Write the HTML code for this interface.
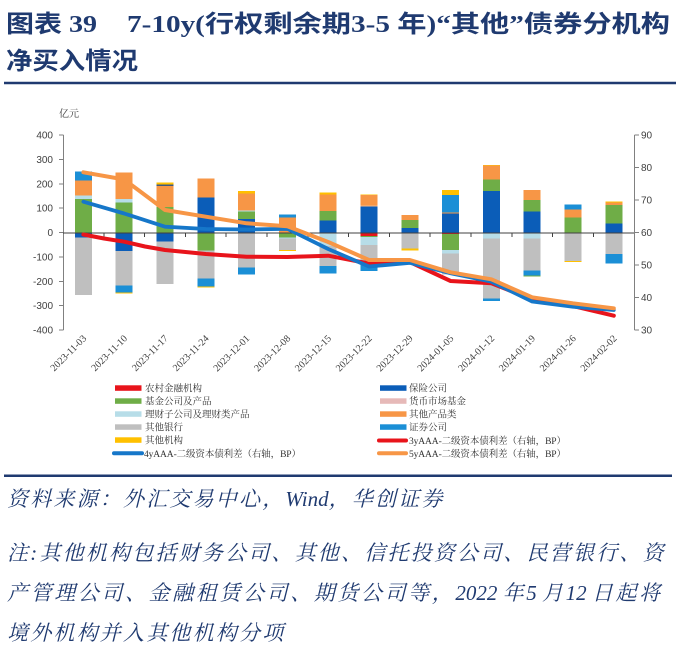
<!DOCTYPE html>
<html><head><meta charset="utf-8"><style>
html,body{margin:0;padding:0;background:#fff;}
svg{display:block;}
.t{font-family:"Liberation Serif","Noto Sans CJK SC",sans-serif;font-weight:bold;fill:#1f3a70;}
.ax{font-family:"Liberation Sans",sans-serif;font-size:10px;fill:#404040;}
.xl{font-family:"Liberation Serif",serif;font-size:10px;fill:#404040;}
.lg{font-family:"Liberation Serif","Noto Serif CJK SC",serif;font-size:9.5px;fill:#333;}
.ft{font-family:"Liberation Serif","Noto Serif CJK SC",serif;font-style:italic;fill:#1f3a70;}
</style></head><body>
<svg width="680" height="651" viewBox="0 0 680 651" xmlns="http://www.w3.org/2000/svg">
<rect width="680" height="651" fill="#fff"/>
<!-- Title -->
<text class="t" x="6" y="32" font-size="24" textLength="91" lengthAdjust="spacingAndGlyphs">图表 39</text>
<text class="t" x="127" y="32" font-size="24" textLength="543" lengthAdjust="spacingAndGlyphs">7-10y(行权剩余期3-5 年)“其他”债券分机构</text>
<text class="t" x="6" y="69" font-size="24" textLength="132" lengthAdjust="spacingAndGlyphs">净买入情况</text>
<line x1="4" y1="83" x2="676" y2="83" stroke="#1f3a70" stroke-width="2.5"/>

<!-- unit -->
<text x="59" y="117" font-family="Liberation Serif, Noto Serif CJK SC, serif" font-size="10" fill="#404040">亿元</text>

<!-- Bars -->
<g shape-rendering="crispEdges">
<!-- bar1 -->
<rect x="74.9" y="233" width="17" height="4.3" fill="#0B5DB8"/>
<rect x="74.9" y="237.3" width="17" height="57.7" fill="#BFBFBF"/>
<rect x="74.9" y="199" width="17" height="34" fill="#6FAD47"/>
<rect x="74.9" y="195.7" width="17" height="3.3" fill="#B7DDE8"/>
<rect x="74.9" y="180.7" width="17" height="15" fill="#F79646"/>
<rect x="74.9" y="171.5" width="17" height="9.2" fill="#1B8FD6"/>
<!-- bar2 -->
<rect x="115.7" y="202.3" width="17" height="30.7" fill="#6FAD47"/>
<rect x="115.7" y="199" width="17" height="3.3" fill="#B7DDE8"/>
<rect x="115.7" y="172.3" width="17" height="26.7" fill="#F79646"/>
<rect x="115.7" y="233" width="17" height="18" fill="#0B5DB8"/>
<rect x="115.7" y="251" width="17" height="34.7" fill="#BFBFBF"/>
<rect x="115.7" y="285.7" width="17" height="7" fill="#1B8FD6"/>
<rect x="115.7" y="292.7" width="17" height="1" fill="#FFC000"/>
<!-- bar3 -->
<rect x="156.5" y="207" width="17" height="26" fill="#6FAD47"/>
<rect x="156.5" y="186" width="17" height="21" fill="#F79646"/>
<rect x="156.5" y="184.7" width="17" height="1.3" fill="#3d5a80"/>
<rect x="156.5" y="182.5" width="17" height="2.2" fill="#FFC000"/>
<rect x="156.5" y="233" width="17" height="8.5" fill="#0B5DB8"/>
<rect x="156.5" y="241.5" width="17" height="42.5" fill="#BFBFBF"/>
<!-- bar4 -->
<rect x="197.3" y="197.3" width="17" height="35.7" fill="#0B5DB8"/>
<rect x="197.3" y="178.3" width="17" height="19" fill="#F79646"/>
<rect x="197.3" y="233" width="17" height="17.7" fill="#6FAD47"/>
<rect x="197.3" y="250.7" width="17" height="27.6" fill="#BFBFBF"/>
<rect x="197.3" y="278.3" width="17" height="8.4" fill="#1B8FD6"/>
<rect x="197.3" y="286.7" width="17" height="0.9" fill="#FFC000"/>
<!-- bar5 -->
<rect x="238.1" y="219.2" width="17" height="13.8" fill="#0B5DB8"/>
<rect x="238.1" y="211.5" width="17" height="7.7" fill="#6FAD47"/>
<rect x="238.1" y="210.7" width="17" height="0.8" fill="#B7DDE8"/>
<rect x="238.1" y="193.3" width="17" height="17.4" fill="#F79646"/>
<rect x="238.1" y="191" width="17" height="2.3" fill="#FFC000"/>
<rect x="238.1" y="233" width="17" height="34.7" fill="#BFBFBF"/>
<rect x="238.1" y="267.7" width="17" height="6.6" fill="#1B8FD6"/>
<!-- bar6 -->
<rect x="278.9" y="217.5" width="17" height="15.5" fill="#F79646"/>
<rect x="278.9" y="214.5" width="17" height="3" fill="#1B8FD6"/>
<rect x="278.9" y="233" width="17" height="4.7" fill="#6FAD47"/>
<rect x="278.9" y="237.7" width="17" height="0.8" fill="#B7DDE8"/>
<rect x="278.9" y="238.5" width="17" height="11.5" fill="#BFBFBF"/>
<rect x="278.9" y="250" width="17" height="1" fill="#FFC000"/>
<!-- bar7 -->
<rect x="319.7" y="220.7" width="17" height="12.3" fill="#0B5DB8"/>
<rect x="319.7" y="211" width="17" height="9.7" fill="#6FAD47"/>
<rect x="319.7" y="194.3" width="17" height="16.7" fill="#F79646"/>
<rect x="319.7" y="192.3" width="17" height="2" fill="#FFC000"/>
<rect x="319.7" y="233" width="17" height="13" fill="#B7DDE8"/>
<rect x="319.7" y="246" width="17" height="20" fill="#BFBFBF"/>
<rect x="319.7" y="266" width="17" height="7.3" fill="#1B8FD6"/>
<!-- bar8 -->
<rect x="360.5" y="206.7" width="17" height="26.3" fill="#0B5DB8"/>
<rect x="360.5" y="205.7" width="17" height="1" fill="#F7B98A"/>
<rect x="360.5" y="195" width="17" height="10.7" fill="#F79646"/>
<rect x="360.5" y="194.3" width="17" height="0.7" fill="#FFC000"/>
<rect x="360.5" y="233" width="17" height="3" fill="#E8141B"/>
<rect x="360.5" y="236" width="17" height="1" fill="#6FAD47"/>
<rect x="360.5" y="237" width="17" height="8" fill="#B7DDE8"/>
<rect x="360.5" y="245" width="17" height="15.7" fill="#BFBFBF"/>
<rect x="360.5" y="260.7" width="17" height="10.3" fill="#1B8FD6"/>
<!-- bar9 -->
<rect x="401.3" y="228" width="17" height="5" fill="#0B5DB8"/>
<rect x="401.3" y="220" width="17" height="8" fill="#6FAD47"/>
<rect x="401.3" y="215" width="17" height="5" fill="#F79646"/>
<rect x="401.3" y="233" width="17" height="15.3" fill="#BFBFBF"/>
<rect x="401.3" y="248.3" width="17" height="2.4" fill="#FFC000"/>
<!-- bar10 -->
<rect x="442.1" y="213.3" width="17" height="19.7" fill="#0B5DB8"/>
<rect x="442.1" y="212.3" width="17" height="1" fill="#F79646"/>
<rect x="442.1" y="195" width="17" height="17.3" fill="#1B8FD6"/>
<rect x="442.1" y="190" width="17" height="5" fill="#FFC000"/>
<rect x="442.1" y="233" width="17" height="1.2" fill="#E8141B"/>
<rect x="442.1" y="234.2" width="17" height="15.8" fill="#6FAD47"/>
<rect x="442.1" y="250" width="17" height="3.5" fill="#B7DDE8"/>
<rect x="442.1" y="253.5" width="17" height="21" fill="#BFBFBF"/>
<!-- bar11 -->
<rect x="482.9" y="191" width="17" height="42" fill="#0B5DB8"/>
<rect x="482.9" y="179.3" width="17" height="11.7" fill="#6FAD47"/>
<rect x="482.9" y="165.7" width="17" height="13.6" fill="#F79646"/>
<rect x="482.9" y="165" width="17" height="0.7" fill="#FFC000"/>
<rect x="482.9" y="233" width="17" height="5.5" fill="#B7DDE8"/>
<rect x="482.9" y="238.5" width="17" height="59.8" fill="#BFBFBF"/>
<rect x="482.9" y="298.3" width="17" height="2.7" fill="#1B8FD6"/>
<!-- bar12 -->
<rect x="523.7" y="211.7" width="17" height="21.3" fill="#0B5DB8"/>
<rect x="523.7" y="200" width="17" height="11.7" fill="#6FAD47"/>
<rect x="523.7" y="190" width="17" height="10" fill="#F79646"/>
<rect x="523.7" y="233" width="17" height="5.5" fill="#B7DDE8"/>
<rect x="523.7" y="238.5" width="17" height="32.2" fill="#BFBFBF"/>
<rect x="523.7" y="270.7" width="17" height="4.8" fill="#1B8FD6"/>
<rect x="523.7" y="275.5" width="17" height="0.8" fill="#6FAD47"/>
<!-- bar13 -->
<rect x="564.5" y="217.3" width="17" height="15.7" fill="#6FAD47"/>
<rect x="564.5" y="209.3" width="17" height="8" fill="#F79646"/>
<rect x="564.5" y="204.3" width="17" height="5" fill="#1B8FD6"/>
<rect x="564.5" y="233" width="17" height="28" fill="#BFBFBF"/>
<rect x="564.5" y="261" width="17" height="0.8" fill="#FFC000"/>
<!-- bar14 -->
<rect x="605.3" y="223.3" width="17" height="9.7" fill="#0B5DB8"/>
<rect x="605.3" y="205" width="17" height="18.3" fill="#6FAD47"/>
<rect x="605.3" y="202.7" width="17" height="2.3" fill="#F79646"/>
<rect x="605.3" y="201.7" width="17" height="1" fill="#FFC000"/>
<rect x="605.3" y="233" width="17" height="21" fill="#BFBFBF"/>
<rect x="605.3" y="254" width="17" height="9.3" fill="#1B8FD6"/>
</g>

<!-- Axes -->
<g stroke="#808080" stroke-width="1" shape-rendering="crispEdges">
<line x1="63.5" y1="135" x2="63.5" y2="330"/>
<line x1="59" y1="135" x2="63.5" y2="135"/>
<line x1="59" y1="159.4" x2="63.5" y2="159.4"/>
<line x1="59" y1="183.75" x2="63.5" y2="183.75"/>
<line x1="59" y1="208.1" x2="63.5" y2="208.1"/>
<line x1="59" y1="232.5" x2="63.5" y2="232.5"/>
<line x1="59" y1="256.9" x2="63.5" y2="256.9"/>
<line x1="59" y1="281.25" x2="63.5" y2="281.25"/>
<line x1="59" y1="305.6" x2="63.5" y2="305.6"/>
<line x1="59" y1="330" x2="63.5" y2="330"/>
<line x1="634.5" y1="135" x2="634.5" y2="330"/>
<line x1="634.5" y1="135" x2="639" y2="135"/>
<line x1="634.5" y1="167.5" x2="639" y2="167.5"/>
<line x1="634.5" y1="200" x2="639" y2="200"/>
<line x1="634.5" y1="232.5" x2="639" y2="232.5"/>
<line x1="634.5" y1="265" x2="639" y2="265"/>
<line x1="634.5" y1="297.5" x2="639" y2="297.5"/>
<line x1="634.5" y1="330" x2="639" y2="330"/>
</g>
<g stroke="#404040" stroke-width="1" shape-rendering="crispEdges">
<line x1="63" y1="233" x2="634" y2="233"/>
<line x1="103.8" y1="233" x2="103.8" y2="237"/>
<line x1="144.6" y1="233" x2="144.6" y2="237"/>
<line x1="185.4" y1="233" x2="185.4" y2="237"/>
<line x1="226.2" y1="233" x2="226.2" y2="237"/>
<line x1="267" y1="233" x2="267" y2="237"/>
<line x1="307.8" y1="233" x2="307.8" y2="237"/>
<line x1="348.6" y1="233" x2="348.6" y2="237"/>
<line x1="389.4" y1="233" x2="389.4" y2="237"/>
<line x1="430.2" y1="233" x2="430.2" y2="237"/>
<line x1="471" y1="233" x2="471" y2="237"/>
<line x1="511.8" y1="233" x2="511.8" y2="237"/>
<line x1="552.6" y1="233" x2="552.6" y2="237"/>
<line x1="593.4" y1="233" x2="593.4" y2="237"/>
</g>

<!-- Left axis labels -->
<g class="ax" text-anchor="end">
<text x="53" y="138.5">400</text>
<text x="53" y="162.9">300</text>
<text x="53" y="187.25">200</text>
<text x="53" y="211.6">100</text>
<text x="53" y="236">0</text>
<text x="53" y="260.4">-100</text>
<text x="53" y="284.75">-200</text>
<text x="53" y="309.1">-300</text>
<text x="53" y="333.5">-400</text>
</g>
<g class="ax">
<text x="641" y="138.5">90</text>
<text x="641" y="171">80</text>
<text x="641" y="203.5">70</text>
<text x="641" y="236">60</text>
<text x="641" y="268.5">50</text>
<text x="641" y="301">40</text>
<text x="641" y="333.5">30</text>
</g>

<!-- X labels -->
<g class="xl" text-anchor="end">
<text transform="translate(87,339) rotate(-45)">2023-11-03</text>
<text transform="translate(127.8,339) rotate(-45)">2023-11-10</text>
<text transform="translate(168.6,339) rotate(-45)">2023-11-17</text>
<text transform="translate(209.4,339) rotate(-45)">2023-11-24</text>
<text transform="translate(250.2,339) rotate(-45)">2023-12-01</text>
<text transform="translate(291,339) rotate(-45)">2023-12-08</text>
<text transform="translate(331.8,339) rotate(-45)">2023-12-15</text>
<text transform="translate(372.6,339) rotate(-45)">2023-12-22</text>
<text transform="translate(413.4,339) rotate(-45)">2023-12-29</text>
<text transform="translate(454.2,339) rotate(-45)">2024-01-05</text>
<text transform="translate(495,339) rotate(-45)">2024-01-12</text>
<text transform="translate(535.8,339) rotate(-45)">2024-01-19</text>
<text transform="translate(576.6,339) rotate(-45)">2024-01-26</text>
<text transform="translate(617.4,339) rotate(-45)">2024-02-02</text>
</g>

<!-- Lines -->
<g fill="none" stroke-linejoin="round" stroke-linecap="round">
<polyline stroke="#E8141B" stroke-width="4" points="83.4,234.5 104,238.5 124.2,241.7 145,246.5 165,250 205.8,254 246.6,256.7 287.4,257 328.2,255.7 369,263.5 409.8,262 450.6,281 491.4,283.3 532.2,299.3 573,306 613.8,315.7"/>
<polyline stroke="#1677C9" stroke-width="3.8" points="83.4,201.7 124.2,213.5 165,226.7 205.8,229 246.6,229.5 287.4,228.8 328.2,249 369,266.5 409.8,262.8 450.6,273.3 491.4,281.7 532.2,301.5 573,306.7 613.8,310"/>
<polyline stroke="#F79646" stroke-width="4" points="83.4,172.3 124.2,179.5 165,210 205.8,216.7 246.6,223.3 287.4,226.3 328.2,242 369,260 409.8,260 450.6,272.3 491.4,279.3 532.2,297.3 573,303.3 613.8,308.3"/>
</g>

<!-- Legend -->
<g>
<rect x="115" y="385.3" width="26.5" height="5.5" fill="#E8141B"/>
<rect x="115" y="398.3" width="26.5" height="5.5" fill="#6FAD47"/>
<rect x="115" y="411.3" width="26.5" height="5.5" fill="#B7DDE8"/>
<rect x="115" y="424.3" width="26.5" height="5.5" fill="#BFBFBF"/>
<rect x="115" y="437.3" width="26.5" height="5.5" fill="#FFC000"/>
<line x1="114" y1="453.3" x2="142" y2="453.3" stroke="#1677C9" stroke-width="4" stroke-linecap="round"/>
<rect x="380" y="385.3" width="26.5" height="5.5" fill="#0B5DB8"/>
<rect x="380" y="398.3" width="26.5" height="5.5" fill="#E6B9B8"/>
<rect x="380" y="411.3" width="26.5" height="5.5" fill="#F79646"/>
<rect x="380" y="424.3" width="26.5" height="5.5" fill="#1B8FD6"/>
<line x1="379" y1="440.5" x2="406" y2="440.5" stroke="#E8141B" stroke-width="4" stroke-linecap="round"/>
<line x1="379" y1="453.3" x2="406" y2="453.3" stroke="#F79646" stroke-width="4" stroke-linecap="round"/>
</g>
<g class="lg">
<text x="145" y="391.5">农村金融机构</text>
<text x="145" y="404.5">基金公司及产品</text>
<text x="145" y="417.5">理财子公司及理财类产品</text>
<text x="145" y="430.5">其他银行</text>
<text x="145" y="443.5">其他机构</text>
<text x="144" y="456.8" textLength="157" lengthAdjust="spacing">4yAAA-二级资本债利差（右轴，BP）</text>
<text x="409" y="391.5">保险公司</text>
<text x="409" y="404.5">货币市场基金</text>
<text x="409" y="417.5">其他产品类</text>
<text x="409" y="430.5">证券公司</text>
<text x="409" y="443.8" textLength="157" lengthAdjust="spacing">3yAAA-二级资本债利差（右轴，BP）</text>
<text x="409" y="456.8" textLength="157" lengthAdjust="spacing">5yAAA-二级资本债利差（右轴，BP）</text>
</g>

<!-- Footer -->
<line x1="4" y1="475.7" x2="672" y2="475.7" stroke="#1f3a70" stroke-width="2.5"/>
<text class="ft" x="7" y="506" font-size="21" letter-spacing="2.2">资料来源：外汇交易中心，<tspan letter-spacing="0">Wind</tspan>，华创证券</text>
<text class="ft" x="7" y="560" font-size="21" letter-spacing="2.2">注:其他机构包括财务公司、其他、信托投资公司、民营银行、资</text>
<text class="ft" x="7" y="600" font-size="21" letter-spacing="2.6">产管理公司、金融租赁公司、期货公司等，<tspan letter-spacing="0">2022 </tspan>年<tspan letter-spacing="0">5 </tspan>月<tspan letter-spacing="0">12 </tspan>日起将</text>
<text class="ft" x="7" y="640" font-size="21" letter-spacing="2.2">境外机构并入其他机构分项</text>
</svg>
</body></html>
